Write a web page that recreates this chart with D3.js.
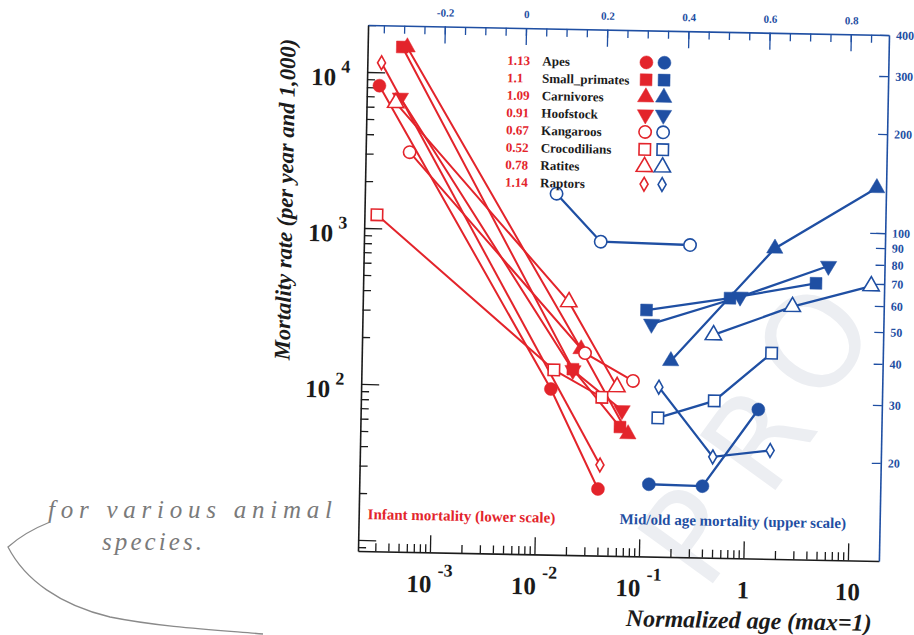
<!DOCTYPE html>
<html>
<head>
  <meta charset="utf-8" />
  <title>Mortality rate vs normalized age</title>
  <script src="https://cdn.jsdelivr.net/npm/d3@7"></script>
  <style>
    body { margin: 0; background: #fff; }
    svg { display: block; }
  </style>
</head>
<body>
  <script>
    // legend: species with their exponent (red numbers)
    var species = ["Apes", "Small_primates", "Carnivores", "Hoofstock", "Kangaroos", "Crocodilians", "Ratites", "Raptors"];
    var exponents = ["1.13", "1.1", "1.09", "0.91", "0.67", "0.52", "0.78", "1.14"];

    // infant mortality, lower (log) age scale, left rate axis
    var infantAge = [
      [2.7e-4, 0.0134, 0.0394],
      [4.4e-4, 0.0216, 0.0624],
      [4.9e-4, 0.0256, 0.0746],
      [4.3e-4, 0.0216, 0.0648],
      [5.4e-4, 0.028, 0.0815],
      [2.7e-4, 0.0142, 0.0414],
      [3.9e-4, 0.0192, 0.0574],
      [2.8e-4, 0.0408]
    ];
    var infantRate = [
      [8200, 98, 22.7],
      [14600, 132, 57],
      [14600, 178, 51.5],
      [6900, 130, 73],
      [3100, 168, 113],
      [1220, 130, 88],
      [6400, 356, 103],
      [11500, 32.4]
    ];

    // mid/old age mortality, upper (linear) scale, right rate axis
    var oldAge = [
      [0.324, 0.456, 0.59],
      [0.31, 0.515, 0.726],
      [0.372, 0.623, 0.871],
      [0.323, 0.54, 0.756],
      [0.083, 0.194, 0.414],
      [0.343, 0.481, 0.62],
      [0.476, 0.669, 0.862],
      [0.344, 0.48, 0.621]
    ];
    var oldRate = [
      [16.7, 16.6, 28.6],
      [56.5, 62.1, 69.7],
      [39.7, 88.5, 137],
      [51.3, 62.8, 78.8],
      [126, 90.6, 89.6],
      [26.6, 30.2, 42.5],
      [47.9, 59, 68.9],
      [33, 20.4, 21.5]
    ];

    // tick labels
    var lowerLabels = [[1e-3, "10", "-3"], [1e-2, "10", "-2"], [1e-1, "10", "-1"], [1, "1", ""], [10, "10", ""]];
    var leftLabels = [[1e2, "10", "2"], [1e3, "10", "3"], [1e4, "10", "4"]];
    var upperTicks = [-0.2, 0, 0.2, 0.4, 0.6, 0.8];
    var rightTicks = [20, 30, 40, 50, 60, 70, 80, 90, 100, 200, 300, 400];

    var RED = "#e3242b", BLUE = "#1f4fa3", INK = "#1b1b1b";
    var SERIF = "'Liberation Serif', 'Times New Roman', serif";

    var width = 914, height = 635;
    var L = 363, R = 884, T = 30, B = 556;

    var svg = d3.select("body").append("svg")
      .attr("width", width).attr("height", height);

    // faint scanner watermark in the background
    var wm = svg.append("g").attr("fill", "#eceef2");
    [["P", 692, 536], ["R", 758, 438], ["O", 814, 342]].forEach(function (w) {
      wm.append("text")
        .attr("transform", "translate(" + w[1] + "," + w[2] + ") rotate(-54)")
        .attr("text-anchor", "middle").attr("dy", "0.35em")
        .style("font-family", "'DejaVu Sans', sans-serif")
        .style("font-size", "128px")
        .text(w[0]);
    });

    // the scanned page is a little tilted
    var g = svg.append("g").attr("transform", "rotate(1.1,623,293)");

    var xLow = d3.scaleLog().domain([2.05e-4, 19.8]).range([L, R]);
    var yLeft = d3.scaleLog().domain([8.5, 20000]).range([B, T]);
    var xTop = d3.scaleLinear().domain([-0.389, 0.894]).range([L, R]);
    var yRight = d3.scaleLog().domain([10.07, 400]).range([B, T]);

    function isMajor(v) {
      var e = Math.log10(v);
      return Math.abs(e - Math.round(e)) < 1e-6;
    }
    function notMajor(v) { return !isMajor(v); }

    function axisGroup(color, tr) {
      return g.append("g").attr("class", "ax").attr("data-color", color).attr("transform", tr);
    }

    // bottom axis (black, ticks inward)
    axisGroup(INK, "translate(0," + B + ")")
      .call(d3.axisBottom(xLow).tickValues(xLow.ticks().filter(notMajor))
        .tickSizeInner(-8).tickSizeOuter(0).tickFormat(""));
    axisGroup(INK, "translate(0," + B + ")")
      .call(d3.axisBottom(xLow).tickValues(xLow.ticks().filter(isMajor))
        .tickSizeInner(-17).tickSizeOuter(0).tickFormat(""))
      .select(".domain").remove();

    // left axis
    axisGroup(INK, "translate(" + L + ",0)")
      .call(d3.axisLeft(yLeft).tickValues(yLeft.ticks().filter(notMajor))
        .tickSizeInner(-8).tickSizeOuter(0).tickFormat(""));
    axisGroup(INK, "translate(" + L + ",0)")
      .call(d3.axisLeft(yLeft).tickValues(yLeft.ticks().filter(isMajor))
        .tickSizeInner(-18).tickSizeOuter(0).tickFormat(""))
      .select(".domain").remove();

    // top axis (blue)
    var minorTop = d3.range(-35, 90, 5).map(function (d) { return d / 100; });
    axisGroup(BLUE, "translate(0," + T + ")")
      .call(d3.axisTop(xTop).tickValues(minorTop).tickSizeInner(-8).tickSizeOuter(0).tickFormat(""));
    axisGroup(BLUE, "translate(0," + T + ")")
      .call(d3.axisTop(xTop).tickValues(upperTicks).tickSizeInner(-17).tickSizeOuter(0).tickPadding(10)
        .tickFormat(function (d) { return d === 0 ? "0" : d.toFixed(1).replace("\u2212", "-"); }))
      .call(function (a) { a.select(".domain").remove(); a.selectAll("text").style("font-size", "11px"); });

    // right axis (blue)
    axisGroup(BLUE, "translate(" + R + ",0)")
      .call(d3.axisRight(yRight).tickValues(rightTicks).tickSizeInner(-9).tickSizeOuter(0).tickPadding(7)
        .tickFormat(d3.format("d")))
      .call(function (a) { a.selectAll("text").style("font-size", "12px"); });
    axisGroup(BLUE, "translate(" + R + ",0)")
      .call(d3.axisRight(yRight).tickValues([100]).tickSizeInner(-15).tickSizeOuter(0).tickFormat(""))
      .select(".domain").remove();

    g.selectAll(".ax").each(function () {
      var a = d3.select(this), c = a.attr("data-color");
      a.selectAll("line, path").attr("stroke", c);
      a.selectAll("text").attr("fill", c).style("font-family", SERIF).style("font-weight", "bold");
    });
    g.selectAll(".ax .domain").attr("stroke-width", 1.6);
    g.selectAll(".ax .tick line").attr("stroke-width", 1.3);

    // power-of-ten labels
    lowerLabels.forEach(function (l) {
      var t = g.append("text")
        .attr("x", xLow(l[0])).attr("y", B + 40)
        .attr("text-anchor", "middle").attr("fill", INK)
        .style("font-family", SERIF).style("font-weight", "bold").style("font-size", "25px");
      t.append("tspan").text(l[1]);
      if (l[2]) t.append("tspan").attr("dx", 6).attr("dy", -16).style("font-size", "18px").text(l[2]);
    });
    leftLabels.forEach(function (l) {
      var t = g.append("text")
        .attr("x", L - 17).attr("y", yLeft(l[0]) + 14)
        .attr("text-anchor", "end").attr("fill", INK)
        .style("font-family", SERIF).style("font-weight", "bold").style("font-size", "25px");
      t.append("tspan").text(l[1]);
      t.append("tspan").attr("dx", 5).attr("dy", -13).style("font-size", "18px").text(l[2]);
    });

    // axis titles
    g.append("text")
      .attr("transform", "translate(283,206) rotate(-90)")
      .attr("text-anchor", "middle").attr("dy", "0.35em").attr("fill", INK)
      .style("font-family", SERIF).style("font-weight", "bold").style("font-style", "italic")
      .style("font-size", "22.5px")
      .text("Mortality rate (per year and 1,000)");
    g.append("text")
      .attr("x", 755).attr("y", 626)
      .attr("text-anchor", "middle").attr("fill", INK)
      .style("font-family", SERIF).style("font-weight", "bold").style("font-style", "italic")
      .style("font-size", "24px")
      .text("Normalized age (max=1)");

    // markers
    var shapeOf = {
      Apes: [d3.symbolCircle, true, 133],
      Small_primates: [d3.symbolSquare, true, 140],
      Carnivores: [d3.symbolTriangle, true, 115],
      Hoofstock: [d3.symbolTriangle, true, 115, 180],
      Kangaroos: [d3.symbolCircle, false, 120],
      Crocodilians: [d3.symbolSquare, false, 130],
      Ratites: [d3.symbolTriangle, false, 115],
      Raptors: [d3.symbolDiamond, false, 55]
    };
    function marker(sel, name, color, x, y) {
      var s = shapeOf[name];
      sel.append("path")
        .attr("d", d3.symbol().type(s[0]).size(s[2])())
        .attr("transform", "translate(" + x + "," + y + ")" + (s[3] ? " rotate(" + s[3] + ")" : ""))
        .attr("fill", s[1] ? color : "#fff")
        .attr("stroke", color).attr("stroke-width", s[1] ? 0.5 : 1.6);
    }

    var line = d3.line();
    var marks = g.append("g");

    species.forEach(function (name, i) {
      var pts = infantAge[i].map(function (a, j) { return [xLow(a), yLeft(infantRate[i][j])]; });
      marks.append("path").attr("d", line(pts))
        .attr("fill", "none").attr("stroke", RED).attr("stroke-width", 2);
    });
    species.forEach(function (name, i) {
      var pts = oldAge[i].map(function (a, j) { return [xTop(a), yRight(oldRate[i][j])]; });
      marks.append("path").attr("d", line(pts))
        .attr("fill", "none").attr("stroke", BLUE).attr("stroke-width", 2.3);
    });
    species.forEach(function (name, i) {
      infantAge[i].forEach(function (a, j) { marker(marks, name, RED, xLow(a), yLeft(infantRate[i][j])); });
      oldAge[i].forEach(function (a, j) { marker(marks, name, BLUE, xTop(a), yRight(oldRate[i][j])); });
    });

    // legend
    var leg = g.append("g");
    species.forEach(function (name, i) {
      var y = 62 + i * 17.4;
      leg.append("text").attr("x", 503).attr("y", y + 5).attr("fill", RED)
        .style("font-family", SERIF).style("font-weight", "bold").style("font-size", "13px")
        .text(exponents[i]);
      leg.append("text").attr("x", 538).attr("y", y + 5).attr("fill", INK)
        .style("font-family", SERIF).style("font-weight", "bold").style("font-size", "13px")
        .text(name);
      marker(leg, name, RED, 642, y);
      marker(leg, name, BLUE, 660, y);
    });

    g.append("text").attr("x", 372).attr("y", 524).attr("fill", RED)
      .style("font-family", SERIF).style("font-weight", "bold").style("font-size", "15px")
      .text("Infant mortality (lower scale)");
    g.append("text").attr("x", 624).attr("y", 524).attr("fill", BLUE)
      .style("font-family", SERIF).style("font-weight", "bold").style("font-size", "15px")
      .text("Mid/old age mortality (upper scale)");

    // pencil note on the page
    var pencil = svg.append("g").attr("fill", "#7a7a7a")
      .style("font-family", SERIF).style("font-style", "italic").style("font-size", "25px");
    pencil.append("text").attr("x", 48).attr("y", 518)
      .attr("textLength", 284).attr("lengthAdjust", "spacing").text("for various  animal");
    pencil.append("text").attr("x", 102).attr("y", 550)
      .attr("textLength", 100).attr("lengthAdjust", "spacing").text("species.");
    svg.append("path")
      .attr("d", "M50,522 C35,528 18,538 8,547 C25,580 60,605 110,617 C160,627 215,630 263,634")
      .attr("fill", "none").attr("stroke", "#8a8a8a").attr("stroke-width", 1.3);
  </script>
</body>
</html>
